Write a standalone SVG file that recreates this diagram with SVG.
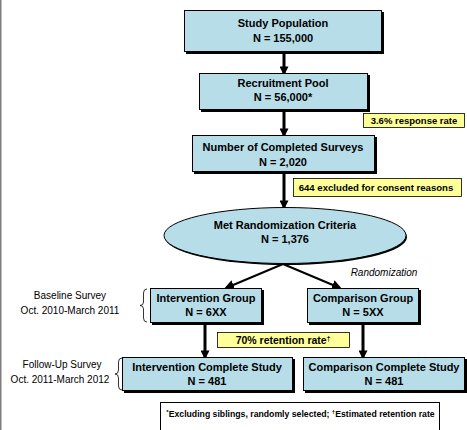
<svg xmlns="http://www.w3.org/2000/svg" width="467" height="430" viewBox="0 0 467 430">
<style>
.box{fill:#b7dde8;stroke:#000;stroke-width:1}
.sh{fill:#000}
.note{fill:#ffff99;stroke:#000;stroke-width:0.8}
.t{font-family:"Liberation Sans",Arial,sans-serif;font-weight:bold;font-size:11px;fill:#000;text-anchor:middle}
.n{font-family:"Liberation Sans",Arial,sans-serif;font-weight:bold;font-size:9.5px;fill:#000;text-anchor:middle}
.s{font-family:"Liberation Sans",Arial,sans-serif;font-size:10px;fill:#000;text-anchor:middle}
.c{stroke:#000;stroke-width:3;fill:none}
.b{stroke:#000;stroke-width:2;fill:none}
.br{stroke:#000;stroke-width:0.8;fill:none}
</style>
<defs>
<marker id="ah" markerWidth="3" markerHeight="3" refX="2.2" refY="1.5" orient="auto" markerUnits="strokeWidth">
<path d="M0,0 L3,1.5 L0,3 Z" fill="#000"/>
</marker>
<marker id="ah2" markerWidth="5" markerHeight="5" refX="4" refY="2.5" orient="auto" markerUnits="strokeWidth">
<path d="M0,0 L5,2.5 L0,5 Z" fill="#000"/>
</marker>
</defs>
<rect x="0" y="0" width="467" height="430" fill="#fff"/>
<line x1="0.75" y1="0" x2="0.75" y2="430" stroke="#7f7f7f" stroke-width="1.5"/>

<g id="connectors">
<line class="c" x1="284" y1="53" x2="284" y2="73" marker-end="url(#ah)"/>
<line class="c" x1="284" y1="111" x2="284" y2="135" marker-end="url(#ah)"/>
<line class="c" x1="284" y1="173" x2="284" y2="207" marker-end="url(#ah)"/>
<line class="b" x1="283" y1="264" x2="226" y2="288" marker-end="url(#ah2)"/>
<line class="b" x1="283" y1="264" x2="340" y2="288" marker-end="url(#ah2)"/>
<line class="c" x1="205" y1="324" x2="205" y2="357" marker-end="url(#ah)"/>
<line class="c" x1="363" y1="324" x2="363" y2="357" marker-end="url(#ah)"/>
</g>

<g id="study-population">
<rect class="sh" x="186" y="12" width="198" height="42"/>
<rect class="box" x="184.5" y="10.5" width="197" height="41"/>
<text class="t" x="283" y="27">Study Population</text>
<text class="t" x="283" y="42">N = 155,000</text>
</g>

<g id="recruitment-pool">
<rect class="sh" x="201" y="75" width="169" height="37"/>
<rect class="box" x="199.5" y="73.5" width="168" height="36"/>
<text class="t" x="283" y="87">Recruitment Pool</text>
<text class="t" x="283" y="101">N = 56,000*</text>
</g>

<g id="response-rate">
<rect class="note" x="363.5" y="113.5" width="101" height="14"/>
<text class="n" x="414" y="124">3.6% response rate</text>
</g>

<g id="completed-surveys">
<rect class="sh" x="194" y="137" width="183" height="37"/>
<rect class="box" x="192.5" y="135.5" width="182" height="36"/>
<text class="t" x="283" y="151">Number of Completed Surveys</text>
<text class="t" x="283" y="166">N = 2,020</text>
</g>

<g id="excluded">
<rect class="note" x="293.5" y="178.5" width="168" height="18"/>
<text class="n" x="376" y="191" style="font-size:9.6px">644 excluded for consent reasons</text>
</g>

<g id="randomization-criteria">
<ellipse cx="286" cy="237" rx="121" ry="28" fill="#000"/>
<ellipse cx="285" cy="235.5" rx="121" ry="28" fill="#b7dde8" stroke="#000" stroke-width="1"/>
<text class="t" x="285" y="229">Met Randomization Criteria</text>
<text class="t" x="285" y="243">N = 1,376</text>
</g>

<g id="randomization-label">
<text class="s" x="384" y="276" font-style="italic">Randomization</text>
</g>

<g id="baseline-survey">
<text class="s" x="70" y="299">Baseline Survey</text>
<text class="s" x="70" y="314">Oct. 2010-March 2011</text>
<path class="br" d="M147,289 Q143.5,289 143.5,293 L143.5,302 Q143.5,305.5 140,305.5 Q143.5,305.5 143.5,309 L143.5,318 Q143.5,322 147,322"/>
</g>

<g id="intervention-group">
<rect class="sh" x="152" y="290" width="112" height="35"/>
<rect class="box" x="150.5" y="288.5" width="111" height="34"/>
<text class="t" x="206" y="302">Intervention Group</text>
<text class="t" x="206" y="316">N = 6XX</text>
</g>

<g id="comparison-group">
<rect class="sh" x="309" y="290" width="112" height="35"/>
<rect class="box" x="307.5" y="288.5" width="111" height="34"/>
<text class="t" x="363" y="302">Comparison Group</text>
<text class="t" x="363" y="316">N = 5XX</text>
</g>

<g id="retention">
<rect class="note" x="217.5" y="332.5" width="132" height="15"/>
<text class="n" x="283" y="344" style="font-size:10.5px">70% retention rate<tspan style="font-size:6.5px" dy="-3">†</tspan></text>
</g>

<g id="follow-up-survey">
<text class="s" x="62" y="368">Follow-Up Survey</text>
<text class="s" x="60" y="383">Oct. 2011-March 2012</text>
<path class="br" d="M122,358 Q118.5,358 118.5,362 L118.5,370 Q118.5,374 115,374 Q118.5,374 118.5,378 L118.5,386 Q118.5,390 122,390"/>
</g>

<g id="intervention-complete">
<rect class="sh" x="124" y="359" width="171" height="34"/>
<rect class="box" x="122.5" y="357.5" width="170" height="33"/>
<text class="t" x="207" y="371">Intervention Complete Study</text>
<text class="t" x="207" y="385">N = 481</text>
</g>

<g id="comparison-complete">
<rect class="sh" x="305" y="359" width="162" height="34"/>
<rect class="box" x="303.5" y="357.5" width="161" height="33"/>
<text class="t" x="384" y="371">Comparison Complete Study</text>
<text class="t" x="384" y="385">N = 481</text>
</g>

<g id="footnote">
<rect x="160.5" y="402.5" width="279" height="30" fill="#fff" stroke="#000" stroke-width="1"/>
<text class="n" x="300.5" y="417" style="font-size:8.7px"><tspan style="font-size:6px" dy="-3">*</tspan><tspan dy="3">Excluding siblings, randomly selected; </tspan><tspan style="font-size:6px" dy="-3">†</tspan><tspan dy="3">Estimated retention rate</tspan></text>
</g>
</svg>
